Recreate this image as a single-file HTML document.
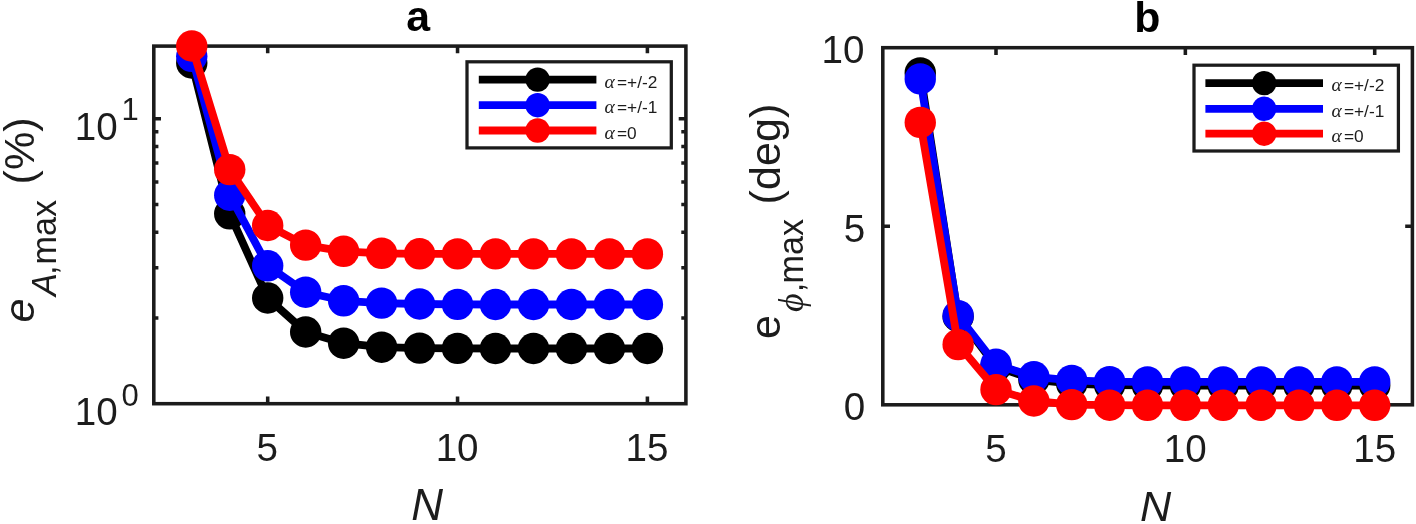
<!DOCTYPE html>
<html lang="en"><head><meta charset="utf-8"><title>Figure</title>
<style>html,body{margin:0;padding:0;background:#fff}body{width:1416px;height:524px;overflow:hidden}svg{display:block}</style>
</head><body>
<svg width="1416" height="524" viewBox="0 0 1416 524">
<rect width="1416" height="524" fill="#fff"/>
<rect x="153.8" y="46.1" width="532.0999999999999" height="357.59999999999997" fill="none" stroke="#1b1b1b" stroke-width="3.55"/>
<path d="M267.70 403.7V396.5M267.70 46.1V53.300000000000004" stroke="#1b1b1b" stroke-width="3.55" fill="none"/>
<path d="M457.55 403.7V396.5M457.55 46.1V53.300000000000004" stroke="#1b1b1b" stroke-width="3.55" fill="none"/>
<path d="M647.40 403.7V396.5M647.40 46.1V53.300000000000004" stroke="#1b1b1b" stroke-width="3.55" fill="none"/>
<path d="M153.8 118.80H161.0M685.9 118.80H678.6999999999999" stroke="#1b1b1b" stroke-width="3.55" fill="none"/>
<path d="M153.8 317.94H158.4M685.9 317.94H681.3" stroke="#1b1b1b" stroke-width="3.55" fill="none"/>
<path d="M153.8 267.77H158.4M685.9 267.77H681.3" stroke="#1b1b1b" stroke-width="3.55" fill="none"/>
<path d="M153.8 232.17H158.4M685.9 232.17H681.3" stroke="#1b1b1b" stroke-width="3.55" fill="none"/>
<path d="M153.8 204.56H158.4M685.9 204.56H681.3" stroke="#1b1b1b" stroke-width="3.55" fill="none"/>
<path d="M153.8 182.00H158.4M685.9 182.00H681.3" stroke="#1b1b1b" stroke-width="3.55" fill="none"/>
<path d="M153.8 162.93H158.4M685.9 162.93H681.3" stroke="#1b1b1b" stroke-width="3.55" fill="none"/>
<path d="M153.8 146.41H158.4M685.9 146.41H681.3" stroke="#1b1b1b" stroke-width="3.55" fill="none"/>
<path d="M153.8 131.84H158.4M685.9 131.84H681.3" stroke="#1b1b1b" stroke-width="3.55" fill="none"/>
<polyline points="191.76,63.00 229.73,213.80 267.70,298.00 305.67,332.00 343.64,343.20 381.61,347.20 419.58,348.10 457.55,348.40 495.52,348.50 533.49,348.50 571.46,348.50 609.43,348.50 647.40,348.50" fill="none" stroke="#000" stroke-width="7.8" stroke-linejoin="round"/>
<circle cx="191.76" cy="63.00" r="15.7" fill="#000"/>
<circle cx="229.73" cy="213.80" r="15.7" fill="#000"/>
<circle cx="267.70" cy="298.00" r="15.7" fill="#000"/>
<circle cx="305.67" cy="332.00" r="15.7" fill="#000"/>
<circle cx="343.64" cy="343.20" r="15.7" fill="#000"/>
<circle cx="381.61" cy="347.20" r="15.7" fill="#000"/>
<circle cx="419.58" cy="348.10" r="15.7" fill="#000"/>
<circle cx="457.55" cy="348.40" r="15.7" fill="#000"/>
<circle cx="495.52" cy="348.50" r="15.7" fill="#000"/>
<circle cx="533.49" cy="348.50" r="15.7" fill="#000"/>
<circle cx="571.46" cy="348.50" r="15.7" fill="#000"/>
<circle cx="609.43" cy="348.50" r="15.7" fill="#000"/>
<circle cx="647.40" cy="348.50" r="15.7" fill="#000"/>
<polyline points="191.76,56.30 229.73,195.20 267.70,265.80 305.67,292.20 343.64,300.80 381.61,303.10 419.58,304.00 457.55,304.40 495.52,304.50 533.49,304.50 571.46,304.50 609.43,304.50 647.40,304.50" fill="none" stroke="#0000ff" stroke-width="7.8" stroke-linejoin="round"/>
<circle cx="191.76" cy="56.30" r="15.7" fill="#0000ff"/>
<circle cx="229.73" cy="195.20" r="15.7" fill="#0000ff"/>
<circle cx="267.70" cy="265.80" r="15.7" fill="#0000ff"/>
<circle cx="305.67" cy="292.20" r="15.7" fill="#0000ff"/>
<circle cx="343.64" cy="300.80" r="15.7" fill="#0000ff"/>
<circle cx="381.61" cy="303.10" r="15.7" fill="#0000ff"/>
<circle cx="419.58" cy="304.00" r="15.7" fill="#0000ff"/>
<circle cx="457.55" cy="304.40" r="15.7" fill="#0000ff"/>
<circle cx="495.52" cy="304.50" r="15.7" fill="#0000ff"/>
<circle cx="533.49" cy="304.50" r="15.7" fill="#0000ff"/>
<circle cx="571.46" cy="304.50" r="15.7" fill="#0000ff"/>
<circle cx="609.43" cy="304.50" r="15.7" fill="#0000ff"/>
<circle cx="647.40" cy="304.50" r="15.7" fill="#0000ff"/>
<polyline points="191.76,46.00 229.73,169.60 267.70,225.50 305.67,245.10 343.64,251.30 381.61,253.30 419.58,253.80 457.55,253.90 495.52,253.90 533.49,253.90 571.46,253.90 609.43,253.90 647.40,253.90" fill="none" stroke="#ff0000" stroke-width="7.8" stroke-linejoin="round"/>
<circle cx="191.76" cy="46.00" r="15.7" fill="#ff0000"/>
<circle cx="229.73" cy="169.60" r="15.7" fill="#ff0000"/>
<circle cx="267.70" cy="225.50" r="15.7" fill="#ff0000"/>
<circle cx="305.67" cy="245.10" r="15.7" fill="#ff0000"/>
<circle cx="343.64" cy="251.30" r="15.7" fill="#ff0000"/>
<circle cx="381.61" cy="253.30" r="15.7" fill="#ff0000"/>
<circle cx="419.58" cy="253.80" r="15.7" fill="#ff0000"/>
<circle cx="457.55" cy="253.90" r="15.7" fill="#ff0000"/>
<circle cx="495.52" cy="253.90" r="15.7" fill="#ff0000"/>
<circle cx="533.49" cy="253.90" r="15.7" fill="#ff0000"/>
<circle cx="571.46" cy="253.90" r="15.7" fill="#ff0000"/>
<circle cx="609.43" cy="253.90" r="15.7" fill="#ff0000"/>
<circle cx="647.40" cy="253.90" r="15.7" fill="#ff0000"/>
<rect x="467" y="61.8" width="204.29999999999995" height="86.10000000000001" fill="#fff" stroke="#1b1b1b" stroke-width="3.25"/>
<path d="M478.8 79.6H596.4" stroke="#000" stroke-width="7.8" fill="none"/>
<circle cx="537.60" cy="79.6" r="12.2" fill="#000"/>
<text x="604.6" y="87.60" font-size="17.3" font-family='"Liberation Sans", Arial, sans-serif' fill="#1c1c1c"><tspan font-family='"Liberation Serif", "DejaVu Serif", serif' font-style="italic" font-size="19.5">α</tspan><tspan x="617.00">=+/-2</tspan></text>
<path d="M478.8 105.2H596.4" stroke="#0000ff" stroke-width="7.8" fill="none"/>
<circle cx="537.60" cy="105.2" r="12.2" fill="#0000ff"/>
<text x="604.6" y="113.20" font-size="17.3" font-family='"Liberation Sans", Arial, sans-serif' fill="#1c1c1c"><tspan font-family='"Liberation Serif", "DejaVu Serif", serif' font-style="italic" font-size="19.5">α</tspan><tspan x="617.00">=+/-1</tspan></text>
<path d="M478.8 130.5H596.4" stroke="#ff0000" stroke-width="7.8" fill="none"/>
<circle cx="537.60" cy="130.5" r="12.2" fill="#ff0000"/>
<text x="604.6" y="138.50" font-size="17.3" font-family='"Liberation Sans", Arial, sans-serif' fill="#1c1c1c"><tspan font-family='"Liberation Serif", "DejaVu Serif", serif' font-style="italic" font-size="19.5">α</tspan><tspan x="617.00">=0</tspan></text>
<text x="267.3" y="460.7" font-size="38.6" text-anchor="middle" font-family='"Liberation Sans", Arial, sans-serif' fill="#1c1c1c">5</text>
<text x="457.1" y="460.7" font-size="38.6" text-anchor="middle" font-family='"Liberation Sans", Arial, sans-serif' fill="#1c1c1c">10</text>
<text x="647.0" y="460.7" font-size="38.6" text-anchor="middle" font-family='"Liberation Sans", Arial, sans-serif' fill="#1c1c1c">15</text>
<text x="74.8" y="140.1" font-size="38.6" text-anchor="start" font-family='"Liberation Sans", Arial, sans-serif' fill="#1c1c1c">10</text>
<text x="121.6" y="120.0" font-size="31" text-anchor="start" font-family='"Liberation Sans", Arial, sans-serif' fill="#1c1c1c">1</text>
<text x="74.8" y="425.0" font-size="38.6" text-anchor="start" font-family='"Liberation Sans", Arial, sans-serif' fill="#1c1c1c">10</text>
<text x="121.6" y="405.9" font-size="31" text-anchor="start" font-family='"Liberation Sans", Arial, sans-serif' fill="#1c1c1c">0</text>
<text x="418.2" y="31" font-size="42.8" text-anchor="middle" font-family='"Liberation Sans", Arial, sans-serif' font-weight="bold" fill="#000">a</text>
<text x="427.1" y="519.8" font-size="44" text-anchor="middle" font-family='"Liberation Sans", Arial, sans-serif' font-style="italic" fill="#1c1c1c">N</text>
<text transform="translate(34.0 322.4) rotate(-90)" font-size="43.2" font-family='"Liberation Sans", Arial, sans-serif' font-style="italic" fill="#1c1c1c">e</text>
<text transform="translate(55.6 296.0) rotate(-90)" font-size="34.2" font-family='"Liberation Sans", Arial, sans-serif' font-style="italic" fill="#1c1c1c">A</text>
<text transform="translate(55.6 275.1) rotate(-90)" font-size="34.2" font-family='"Liberation Sans", Arial, sans-serif' fill="#1c1c1c">,</text>
<text transform="translate(55.6 264.5) rotate(-90)" font-size="34.2" font-family='"Liberation Sans", Arial, sans-serif' fill="#1c1c1c">max</text>
<text transform="translate(34.0 184.5) rotate(-90)" font-size="43.2" font-family='"Liberation Sans", Arial, sans-serif' fill="#1c1c1c">(%)</text>
<rect x="882.8" y="47.7" width="529.6000000000001" height="357.1" fill="none" stroke="#1b1b1b" stroke-width="3.55"/>
<path d="M996.00 404.8V397.6M996.00 47.7V54.900000000000006" stroke="#1b1b1b" stroke-width="3.55" fill="none"/>
<path d="M1185.35 404.8V397.6M1185.35 47.7V54.900000000000006" stroke="#1b1b1b" stroke-width="3.55" fill="none"/>
<path d="M1374.70 404.8V397.6M1374.70 47.7V54.900000000000006" stroke="#1b1b1b" stroke-width="3.55" fill="none"/>
<path d="M882.8 226.20H890.0M1412.4 226.20H1405.2" stroke="#1b1b1b" stroke-width="3.55" fill="none"/>
<polyline points="920.26,72.90 958.13,316.50 996.00,366.50 1033.87,379.50 1071.74,383.70 1109.61,385.00 1147.48,385.40 1185.35,385.50 1223.22,385.50 1261.09,385.50 1298.96,385.50 1336.83,385.50 1374.70,385.50" fill="none" stroke="#000" stroke-width="7.8" stroke-linejoin="round"/>
<circle cx="920.26" cy="72.90" r="15.7" fill="#000"/>
<circle cx="958.13" cy="316.50" r="15.7" fill="#000"/>
<circle cx="996.00" cy="366.50" r="15.7" fill="#000"/>
<circle cx="1033.87" cy="379.50" r="15.7" fill="#000"/>
<circle cx="1071.74" cy="383.70" r="15.7" fill="#000"/>
<circle cx="1109.61" cy="385.00" r="15.7" fill="#000"/>
<circle cx="1147.48" cy="385.40" r="15.7" fill="#000"/>
<circle cx="1185.35" cy="385.50" r="15.7" fill="#000"/>
<circle cx="1223.22" cy="385.50" r="15.7" fill="#000"/>
<circle cx="1261.09" cy="385.50" r="15.7" fill="#000"/>
<circle cx="1298.96" cy="385.50" r="15.7" fill="#000"/>
<circle cx="1336.83" cy="385.50" r="15.7" fill="#000"/>
<circle cx="1374.70" cy="385.50" r="15.7" fill="#000"/>
<polyline points="920.26,78.90 958.13,315.70 996.00,364.30 1033.87,376.80 1071.74,380.40 1109.61,381.70 1147.48,381.90 1185.35,381.90 1223.22,381.90 1261.09,381.90 1298.96,381.90 1336.83,381.90 1374.70,381.90" fill="none" stroke="#0000ff" stroke-width="7.8" stroke-linejoin="round"/>
<circle cx="920.26" cy="78.90" r="15.7" fill="#0000ff"/>
<circle cx="958.13" cy="315.70" r="15.7" fill="#0000ff"/>
<circle cx="996.00" cy="364.30" r="15.7" fill="#0000ff"/>
<circle cx="1033.87" cy="376.80" r="15.7" fill="#0000ff"/>
<circle cx="1071.74" cy="380.40" r="15.7" fill="#0000ff"/>
<circle cx="1109.61" cy="381.70" r="15.7" fill="#0000ff"/>
<circle cx="1147.48" cy="381.90" r="15.7" fill="#0000ff"/>
<circle cx="1185.35" cy="381.90" r="15.7" fill="#0000ff"/>
<circle cx="1223.22" cy="381.90" r="15.7" fill="#0000ff"/>
<circle cx="1261.09" cy="381.90" r="15.7" fill="#0000ff"/>
<circle cx="1298.96" cy="381.90" r="15.7" fill="#0000ff"/>
<circle cx="1336.83" cy="381.90" r="15.7" fill="#0000ff"/>
<circle cx="1374.70" cy="381.90" r="15.7" fill="#0000ff"/>
<polyline points="920.26,122.40 958.13,344.60 996.00,389.60 1033.87,401.00 1071.74,404.60 1109.61,405.20 1147.48,405.30 1185.35,405.30 1223.22,405.30 1261.09,405.30 1298.96,405.30 1336.83,405.30 1374.70,405.30" fill="none" stroke="#ff0000" stroke-width="7.8" stroke-linejoin="round"/>
<circle cx="920.26" cy="122.40" r="15.7" fill="#ff0000"/>
<circle cx="958.13" cy="344.60" r="15.7" fill="#ff0000"/>
<circle cx="996.00" cy="389.60" r="15.7" fill="#ff0000"/>
<circle cx="1033.87" cy="401.00" r="15.7" fill="#ff0000"/>
<circle cx="1071.74" cy="404.60" r="15.7" fill="#ff0000"/>
<circle cx="1109.61" cy="405.20" r="15.7" fill="#ff0000"/>
<circle cx="1147.48" cy="405.30" r="15.7" fill="#ff0000"/>
<circle cx="1185.35" cy="405.30" r="15.7" fill="#ff0000"/>
<circle cx="1223.22" cy="405.30" r="15.7" fill="#ff0000"/>
<circle cx="1261.09" cy="405.30" r="15.7" fill="#ff0000"/>
<circle cx="1298.96" cy="405.30" r="15.7" fill="#ff0000"/>
<circle cx="1336.83" cy="405.30" r="15.7" fill="#ff0000"/>
<circle cx="1374.70" cy="405.30" r="15.7" fill="#ff0000"/>
<rect x="1194" y="65.2" width="204.4000000000001" height="85.8" fill="#fff" stroke="#1b1b1b" stroke-width="3.25"/>
<path d="M1205.4 83.1H1323" stroke="#000" stroke-width="7.8" fill="none"/>
<circle cx="1264.20" cy="83.1" r="12.2" fill="#000"/>
<text x="1331.5" y="91.10" font-size="17.3" font-family='"Liberation Sans", Arial, sans-serif' fill="#1c1c1c"><tspan font-family='"Liberation Serif", "DejaVu Serif", serif' font-style="italic" font-size="19.5">α</tspan><tspan x="1343.90">=+/-2</tspan></text>
<path d="M1205.4 108.8H1323" stroke="#0000ff" stroke-width="7.8" fill="none"/>
<circle cx="1264.20" cy="108.8" r="12.2" fill="#0000ff"/>
<text x="1331.5" y="116.80" font-size="17.3" font-family='"Liberation Sans", Arial, sans-serif' fill="#1c1c1c"><tspan font-family='"Liberation Serif", "DejaVu Serif", serif' font-style="italic" font-size="19.5">α</tspan><tspan x="1343.90">=+/-1</tspan></text>
<path d="M1205.4 133.7H1323" stroke="#ff0000" stroke-width="7.8" fill="none"/>
<circle cx="1264.20" cy="133.7" r="12.2" fill="#ff0000"/>
<text x="1331.5" y="141.70" font-size="17.3" font-family='"Liberation Sans", Arial, sans-serif' fill="#1c1c1c"><tspan font-family='"Liberation Serif", "DejaVu Serif", serif' font-style="italic" font-size="19.5">α</tspan><tspan x="1343.90">=0</tspan></text>
<text x="996.0" y="462.3" font-size="38.6" text-anchor="middle" font-family='"Liberation Sans", Arial, sans-serif' fill="#1c1c1c">5</text>
<text x="1185.3" y="462.3" font-size="38.6" text-anchor="middle" font-family='"Liberation Sans", Arial, sans-serif' fill="#1c1c1c">10</text>
<text x="1374.7" y="462.3" font-size="38.6" text-anchor="middle" font-family='"Liberation Sans", Arial, sans-serif' fill="#1c1c1c">15</text>
<text x="864.5" y="62.6" font-size="38.6" text-anchor="end" font-family='"Liberation Sans", Arial, sans-serif' fill="#1c1c1c">10</text>
<text x="865.2" y="241.7" font-size="38.6" text-anchor="end" font-family='"Liberation Sans", Arial, sans-serif' fill="#1c1c1c">5</text>
<text x="865.2" y="420.3" font-size="38.6" text-anchor="end" font-family='"Liberation Sans", Arial, sans-serif' fill="#1c1c1c">0</text>
<text x="1147.3" y="32.2" font-size="42.8" text-anchor="middle" font-family='"Liberation Sans", Arial, sans-serif' font-weight="bold" fill="#000">b</text>
<text x="1155.6" y="521" font-size="43.2" text-anchor="middle" font-family='"Liberation Sans", Arial, sans-serif' font-style="italic" fill="#1c1c1c">N</text>
<text transform="translate(780.4 339.0) rotate(-90)" font-size="43.2" font-family='"Liberation Sans", Arial, sans-serif' fill="#1c1c1c">e</text>
<text transform="translate(802.7 312.0) rotate(-90)" font-size="36" font-family='"Liberation Serif", "DejaVu Serif", serif' font-style="italic" fill="#1c1c1c">ϕ</text>
<text transform="translate(802.7 292.2) rotate(-90)" font-size="34.2" font-family='"Liberation Sans", Arial, sans-serif' fill="#1c1c1c">,</text>
<text transform="translate(802.7 283.6) rotate(-90)" font-size="34.2" font-family='"Liberation Sans", Arial, sans-serif' fill="#1c1c1c">max</text>
<text transform="translate(780.4 204.5) rotate(-90)" font-size="43.2" font-family='"Liberation Sans", Arial, sans-serif' fill="#1c1c1c">(deg)</text>
</svg>
</body></html>
